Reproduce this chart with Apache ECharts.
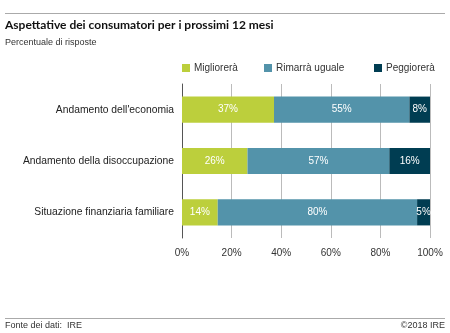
<!DOCTYPE html>
<html><head><meta charset="utf-8">
<script src="https://cdn.jsdelivr.net/npm/echarts@6/dist/echarts.min.js"></script>
<style>html,body{margin:0;padding:0;background:#fff}#c{width:450px;height:333px}</style>
</head><body><div id="c"></div>
<script>
const categories = ["Andamento dell'economia", "Andamento della disoccupazione", "Situazione finanziaria familiare"];
const seriesNames = ["Migliorerà", "Rimarrà uguale", "Peggiorerà"];
const migliorera = [37.1, 26.4, 14.4];
const rimarra = [54.6, 57.2, 80.4];
const peggiorera = [8.3, 16.4, 5.2];
const xTicks = [0, 20, 40, 60, 80, 100];
const colors = ["#bccf3c", "#5393aa", "#003d52"];
const FONT = "'Liberation Sans', sans-serif";

const chart = echarts.init(document.getElementById('c'), null, {renderer: 'canvas'});
const mk = (name, data, color) => ({
  name, type: 'bar', stack: 'a', data, barWidth: '51%',
  itemStyle: {color},
  label: {show: true, position: 'inside', color: '#fff', fontSize: 10, fontFamily: FONT,
    formatter: p => Math.round(p.value) + '%'}
});
const legendLefts = [182, 264, 374];
chart.setOption({
  animation: false,
  textStyle: {fontFamily: FONT},
  title: {text: 'Aspettative dei consumatori per i prossimi 12 mesi', left: 5, top: 19, padding: 0,
    textStyle: {fontSize: 12, fontWeight: 'bold', color: '#111', fontFamily: "Lato, sans-serif"},
    subtext: 'Percentuale di risposte', itemGap: 7,
    subtextStyle: {fontSize: 9, color: '#333', fontFamily: FONT}},
  legend: seriesNames.map((n, i) => ({data: [n], top: 63, left: legendLefts[i], padding: 0,
    itemWidth: 8, itemHeight: 8, itemGap: 4, icon: 'rect',
    textStyle: {fontSize: 10, color: '#333', fontFamily: FONT, padding: [0, 0, 0, -1]}})),
  grid: {left: 182, right: 20, top: 84, bottom: 95, containLabel: false},
  xAxis: {type: 'value', min: xTicks[0], max: xTicks[xTicks.length-1], interval: 20,
    axisLabel: {formatter: '{value}%', fontSize: 10, color: '#333', margin: 10},
    splitLine: {lineStyle: {color: '#bbb'}}, axisLine: {show: false}, axisTick: {show: false}},
  yAxis: {type: 'category', data: categories, inverse: true,
    axisLine: {lineStyle: {color: '#555'}}, axisTick: {show: false},
    axisLabel: {fontSize: 10.3, color: '#222', margin: 8}},
  series: [mk(seriesNames[0], migliorera, colors[0]), mk(seriesNames[1], rimarra, colors[1]), mk(seriesNames[2], peggiorera, colors[2])],
  graphic: [
    {type: 'line', shape: {x1: 5, y1: 13.5, x2: 445, y2: 13.5}, style: {stroke: '#aaa', lineWidth: 1}},
    {type: 'line', shape: {x1: 5, y1: 318.5, x2: 445, y2: 318.5}, style: {stroke: '#aaa', lineWidth: 1}},
    {type: 'text', left: 5, top: 321, style: {text: 'Fonte dei dati:  IRE', fontSize: 9, fill: '#333', fontFamily: FONT}},
    {type: 'text', right: 5, top: 321, style: {text: '©2018 IRE', fontSize: 9, fill: '#333', fontFamily: FONT}}
  ]
});
</script></body></html>
